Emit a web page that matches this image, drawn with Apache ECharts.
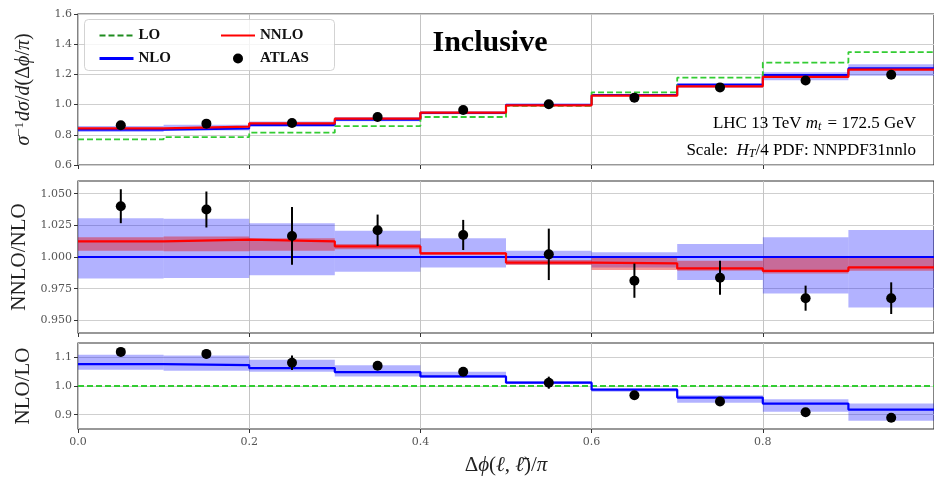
<!DOCTYPE html>
<html><head><meta charset="utf-8">
<script src="https://cdn.jsdelivr.net/npm/echarts@6/dist/echarts.min.js"></script>
<style>html,body{margin:0;padding:0;background:#fff}#c{width:934px;height:479px}</style>
</head><body><div id="c"></div>
<script>
// ---- data ----
const binEdges   = [0.0, 0.1, 0.2, 0.3, 0.4, 0.5, 0.6, 0.7, 0.8, 0.9, 1.0];
const binCenters = [0.05, 0.15, 0.25, 0.35, 0.45, 0.55, 0.65, 0.75, 0.85, 0.95];
const xTickLabels = ['0.0', '0.2', '0.4', '0.6', '0.8'];

// top panel: normalised distribution
const loXsec      = [0.770, 0.785, 0.814, 0.858, 0.918, 0.991, 1.081, 1.178, 1.278, 1.348];
const nloXsec     = [0.833, 0.842, 0.865, 0.899, 0.944, 0.999, 1.064, 1.131, 1.196, 1.241];
const nloXsecLow  = [0.819, 0.828, 0.852, 0.889, 0.936, 0.995, 1.055, 1.111, 1.161, 1.191];
const nloXsecHigh = [0.858, 0.867, 0.888, 0.918, 0.958, 1.004, 1.068, 1.143, 1.215, 1.267];
const nnloXsec    = [0.843, 0.854, 0.876, 0.907, 0.947, 0.995, 1.059, 1.121, 1.183, 1.231];
const atlasXsec    = [0.863, 0.874, 0.878, 0.918, 0.964, 1.002, 1.046, 1.114, 1.160, 1.198];
const atlasXsecErr = [0.011, 0.012, 0.020, 0.011, 0.011, 0.020, 0.014, 0.015, 0.012, 0.015];

// middle panel: NNLO/NLO
const nloRatio      = [1, 1, 1, 1, 1, 1, 1, 1, 1, 1];
const nloRatioLow   = [0.9831, 0.9834, 0.9855, 0.9884, 0.9918, 0.9940, 0.9918, 0.9818, 0.9712, 0.9602];
const nloRatioHigh  = [1.0306, 1.0301, 1.0267, 1.0208, 1.0148, 1.0050, 1.0037, 1.0103, 1.0156, 1.0214];
const nnloRatio     = [1.0124, 1.0137, 1.0124, 1.0084, 1.0029, 0.9955, 0.9950, 0.9910, 0.9890, 0.9918];
const nnloRatioLow  = [1.0050, 1.0045, 1.0050, 1.0061, 1.0018, 0.9937, 0.9897, 0.9892, 0.9870, 0.9892];
const nnloRatioHigh = [1.0156, 1.0161, 1.0148, 1.0103, 1.0040, 0.9976, 0.9992, 0.9970, 0.9992, 0.9992];
const atlasRatio    = [1.0401, 1.0375, 1.0166, 1.0211, 1.0174, 1.0021, 0.9813, 0.9836, 0.9675, 0.9675];
const atlasRatioErr = [0.0134, 0.0142, 0.0228, 0.0124, 0.0119, 0.0203, 0.0135, 0.0135, 0.0099, 0.0125];
const midTicks = [0.950, 0.975, 1.000, 1.025, 1.050];

// bottom panel: NLO/LO
const loRatio       = [1, 1, 1, 1, 1, 1, 1, 1, 1, 1];
const nloLoRatio    = [1.0763, 1.0728, 1.0624, 1.0486, 1.0335, 1.0116, 0.9873, 0.9595, 0.9387, 0.9179];
const nloLoLow      = [1.0566, 1.0532, 1.0497, 1.0335, 1.0277, 1.0070, 0.9800, 0.9420, 0.9100, 0.8790];
const nloLoHigh     = [1.1087, 1.1064, 1.0913, 1.0728, 1.0497, 1.0165, 0.9910, 0.9680, 0.9540, 0.9390];
const atlasLoRatio  = [1.119, 1.112, 1.081, 1.0705, 1.0497, 1.0116, 0.9676, 0.9457, 0.9087, 0.889];
const atlasLoErr    = [0.015, 0.016, 0.025, 0.013, 0.012, 0.021, 0.013, 0.013, 0.009, 0.011];
const botTicks = [0.9, 1.0, 1.1];

// ---- styling ----
const SERIF = 'Liberation Serif';
const TICKFONT = 'DejaVu Serif';
const GREEN = '#33cc33', GREEN_LEG = '#1e8c1e', RED = '#ff0000', BLUE = '#0000ff';
const BLUE_BAND = 'rgba(0,0,255,0.30)', RED_BAND = 'rgba(230,0,0,0.40)';
const GRIDC = '#cfcfcf';

const chart = echarts.init(document.getElementById('c'), null, {renderer: 'canvas'});

function stepData(vals) {
  const d = vals.map((v, i) => [binEdges[i], v]);
  d.push([binEdges[binEdges.length - 1], vals[vals.length - 1]]);
  return d;
}
function stepLine(name, gi, vals, color, width, dashed, z) {
  return {
    type: 'line', name: name, xAxisIndex: gi, yAxisIndex: gi, data: stepData(vals),
    step: 'end', symbol: 'none', z: z, silent: true,
    lineStyle: {color: color, width: width, type: dashed ? [6, 3] : 'solid'},
    itemStyle: {color: color}
  };
}
function band(name, gi, low, high, color, z) {
  return {
    type: 'custom', name: name, xAxisIndex: gi, yAxisIndex: gi, z: z, silent: true,
    data: low.map((l, i) => [binEdges[i], binEdges[i + 1], l, high[i]]),
    encode: {x: [0, 1], y: [2, 3]},
    renderItem: function (params, api) {
      const p0 = api.coord([api.value(0), api.value(3)]);
      const p1 = api.coord([api.value(1), api.value(2)]);
      return {type: 'rect', shape: {x: p0[0], y: p0[1], width: p1[0] - p0[0], height: p1[1] - p0[1]},
              style: {fill: color}};
    }
  };
}
function errBars(gi, vals, errs) {
  return {
    type: 'custom', xAxisIndex: gi, yAxisIndex: gi, z: 7, silent: true,
    data: vals.map((v, i) => [binCenters[i], v - errs[i], v + errs[i]]),
    encode: {x: 0, y: [1, 2]},
    renderItem: function (params, api) {
      const a = api.coord([api.value(0), api.value(1)]);
      const b = api.coord([api.value(0), api.value(2)]);
      return {type: 'line', shape: {x1: a[0], y1: a[1], x2: b[0], y2: b[1]},
              style: {stroke: '#000', lineWidth: 2}};
    }
  };
}
function points(name, gi, vals) {
  return {
    type: 'scatter', name: name, xAxisIndex: gi, yAxisIndex: gi, z: 8, silent: true,
    data: vals.map((v, i) => [binCenters[i], v]), symbol: 'circle', symbolSize: 10,
    itemStyle: {color: '#000', opacity: 1}
  };
}

const grids = [
  {left: 78, top: 14, width: 858, height: 151},
  {left: 78, top: 181, width: 858, height: 152},
  {left: 78, top: 343, width: 858, height: 86}
].map(g => Object.assign(g, {show: true, borderColor: '#333', borderWidth: 1.2, backgroundColor: 'transparent', containLabel: false}));

function xAxis(gi, showLabels) {
  const ax = {
    type: 'value', gridIndex: gi, min: 0, max: 1, interval: 0.2,
    axisLine: {show: false},
    axisTick: {show: true, length: 4, lineStyle: {color: '#333', width: 1}},
    splitLine: {show: true, lineStyle: {color: '#c4c4c4', width: 1}},
    axisLabel: {show: showLabels, showMaxLabel: false, margin: 8, color: '#555', fontFamily: TICKFONT, fontSize: 11,
      formatter: function (v) { const i = Math.round(v / 0.2); return xTickLabels[i] !== undefined ? xTickLabels[i] : ''; }}
  };
  if (showLabels) {
    ax.name = '{r|Δ}{i|ϕ}{r|(}{i|ℓ}{r|, }{i|ℓ̄}{r|)/}{i|π}';
    ax.nameLocation = 'middle';
    ax.nameGap = 26;
    ax.nameTextStyle = {fontFamily: SERIF, fontSize: 21, color: '#222',
      rich: {r: {fontFamily: SERIF, fontSize: 21, color: '#222'}, i: {fontFamily: SERIF, fontStyle: 'italic', fontSize: 21, color: '#222'}}};
  }
  return ax;
}
function yAxis(gi, opts) {
  const base = {
    type: 'value', gridIndex: gi,
    axisLine: {show: false},
    axisTick: {show: true, length: 4, lineStyle: {color: '#333', width: 1}},
    splitLine: {show: true, lineStyle: {color: GRIDC, width: 1}},
    axisLabel: {margin: 6, color: '#555', fontFamily: TICKFONT, fontSize: 11},
    nameLocation: 'middle', nameRotate: 90, nameGap: 44,
    nameTextStyle: {fontFamily: SERIF, fontSize: 21, color: '#222'}
  };
  return echarts.util.merge(base, opts, true);
}

const legendText = {fontFamily: SERIF, fontWeight: 'bold', fontSize: 15, color: '#111'};

const option = {
  animation: false,
  backgroundColor: '#fff',
  grid: grids,
  xAxis: [xAxis(0, false), xAxis(1, false), xAxis(2, true)],
  yAxis: [
    yAxis(0, {min: 0.6, max: 1.6, interval: 0.2,
      axisLabel: {formatter: v => v.toFixed(1)},
      name: '{i|σ}{s|−1}{i|dσ}{r|/}{i|d}{r|(Δ}{i|ϕ}{r|/}{i|π}{r|)}',
      nameGap: 44,
      nameTextStyle: {rich: {
        i: {fontFamily: SERIF, fontStyle: 'italic', fontSize: 20, color: '#222'},
        r: {fontFamily: SERIF, fontSize: 20, color: '#222'},
        s: {fontFamily: SERIF, fontSize: 13, color: '#222', verticalAlign: 'top', padding: [0, 1, 8, 0]}
      }}}),
    yAxis(1, {min: 0.94, max: 1.06,
      axisTick: {customValues: midTicks},
      axisLabel: {customValues: midTicks, formatter: v => v.toFixed(3)},
      name: 'NNLO/NLO', nameGap: 44}),
    yAxis(2, {min: 0.85, max: 1.15,
      axisTick: {customValues: botTicks},
      axisLabel: {customValues: botTicks, formatter: v => v.toFixed(1)},
      name: 'NLO/LO', nameGap: 44})
  ],
  legend: [
    {left: 93, top: 23, orient: 'vertical', itemWidth: 34, itemHeight: 10, itemGap: 8, selectedMode: false,
     textStyle: legendText,
     data: [{name: 'LO', lineStyle: {color: GREEN_LEG, width: 2, type: [6, 3]}, itemStyle: {opacity: 0}},
            {name: 'NLO', lineStyle: {color: BLUE, width: 3}, itemStyle: {opacity: 0}}]},
    {left: 215, top: 23, orient: 'vertical', itemWidth: 34, itemHeight: 10, itemGap: 8, selectedMode: false,
     textStyle: legendText,
     data: [{name: 'NNLO', lineStyle: {color: RED, width: 2}, itemStyle: {opacity: 0}},
            {name: 'ATLAS', itemStyle: {color: '#000'}}]}
  ],
  graphic: [
    {type: 'rect', left: 84, top: 19, z: 1, shape: {width: 250, height: 51, r: 4},
     style: {fill: 'rgba(255,255,255,0.8)', stroke: 'rgba(200,200,200,0.8)', lineWidth: 1}},
    {type: 'text', x: 490, y: 43, z: 10,
     style: {text: 'Inclusive', font: 'bold 30px "Liberation Serif"', fill: '#000', align: 'center', verticalAlign: 'middle'}},
    {type: 'text', x: 916, y: 124, z: 10,
     style: {text: '{r|LHC 13 TeV }{i|m}{sub|t}{r| = 172.5 GeV}', align: 'right', verticalAlign: 'middle',
       rich: {r: {fontFamily: SERIF, fontSize: 17, color: '#333'},
              i: {fontFamily: SERIF, fontStyle: 'italic', fontSize: 17, color: '#333'},
              sub: {fontFamily: SERIF, fontStyle: 'italic', fontSize: 12, color: '#333', verticalAlign: 'bottom', padding: [6, 2, 0, 0]}}}},
    {type: 'text', x: 916, y: 151, z: 10,
     style: {text: '{r|Scale:  }{i|H}{sub|T}{r|/4 PDF: NNPDF31nnlo}', align: 'right', verticalAlign: 'middle',
       rich: {r: {fontFamily: SERIF, fontSize: 17, color: '#333'},
              i: {fontFamily: SERIF, fontStyle: 'italic', fontSize: 17, color: '#333'},
              sub: {fontFamily: SERIF, fontStyle: 'italic', fontSize: 12, color: '#333', verticalAlign: 'bottom', padding: [6, 0, 0, 0]}}}}
  ],
  series: [
    // top panel
    band('NLO band', 0, nloXsecLow, nloXsecHigh, BLUE_BAND, 2),
    stepLine('NLO', 0, nloXsec, BLUE, 2, false, 3),
    stepLine('LO', 0, loXsec, GREEN, 1.8, true, 4),
    stepLine('NNLO', 0, nnloXsec, RED, 2.2, false, 5),
    errBars(0, atlasXsec, atlasXsecErr),
    points('ATLAS', 0, atlasXsec),
    // middle panel
    band('NLO ratio band', 1, nloRatioLow, nloRatioHigh, BLUE_BAND, 2),
    band('NNLO ratio band', 1, nnloRatioLow, nnloRatioHigh, RED_BAND, 3),
    stepLine('NLO', 1, nloRatio, BLUE, 2, false, 4),
    stepLine('NNLO', 1, nnloRatio, RED, 2.2, false, 5),
    errBars(1, atlasRatio, atlasRatioErr),
    points('ATLAS', 1, atlasRatio),
    // bottom panel
    band('NLO/LO band', 2, nloLoLow, nloLoHigh, BLUE_BAND, 2),
    stepLine('LO', 2, loRatio, GREEN, 1.8, true, 3),
    stepLine('NLO', 2, nloLoRatio, BLUE, 2.2, false, 4),
    errBars(2, atlasLoRatio, atlasLoErr),
    points('ATLAS', 2, atlasLoRatio)
  ]
};
chart.setOption(option);
</script>
</body></html>
